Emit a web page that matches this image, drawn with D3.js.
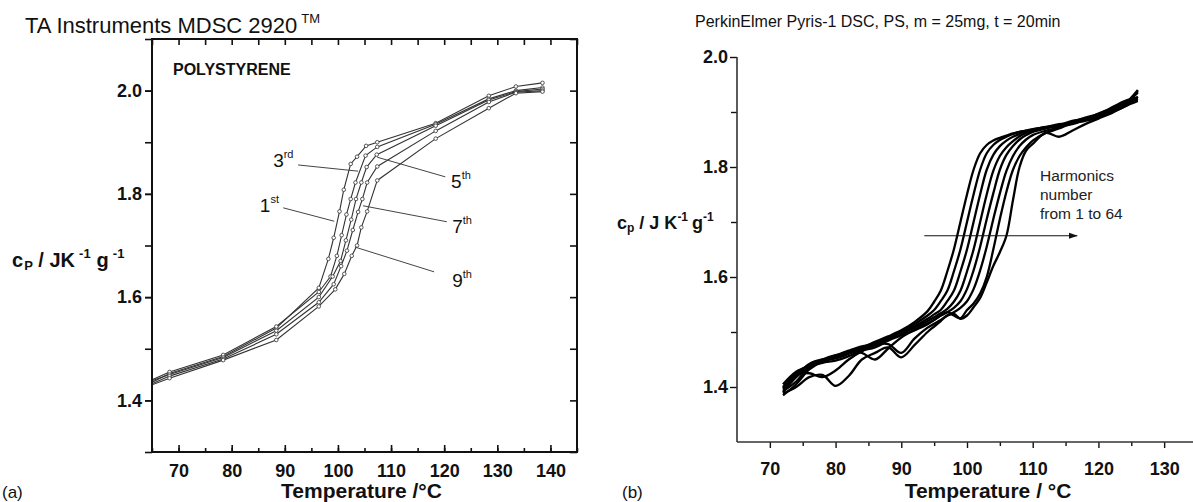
<!DOCTYPE html>
<html>
<head>
<meta charset="utf-8">
<script src="https://cdn.jsdelivr.net/npm/d3@7"></script>
<style>
  body { margin: 0; background: #fff; }
  svg { display: block; font-family: "Liberation Sans", Arial, Helvetica, sans-serif; }
</style>
</head>
<body>
<svg id="chart" width="1193" height="502"></svg>
<script>
// ---- panel (a): TA Instruments MDSC, 5 harmonics with markers ----
const t1st = [65, 68.3, 78.4, 88.4, 96.4, 98.2, 99.2, 100.3, 101.1, 102.4, 103.6, 105.3, 107.4, 118.4, 128.4, 133.5, 138.5];
const cp1st = [1.435, 1.452, 1.485, 1.54, 1.618, 1.674, 1.715, 1.766, 1.808, 1.858, 1.872, 1.893, 1.90, 1.937, 1.99, 2.008, 2.015];
const t3rd = [65, 68.3, 78.4, 88.4, 96.4, 98.6, 99.8, 100.7, 101.6, 102.4, 103.3, 105.2, 107.4, 118.4, 128.4, 133.5, 138.5];
const cp3rd = [1.44, 1.455, 1.488, 1.543, 1.61, 1.64, 1.68, 1.72, 1.76, 1.79, 1.822, 1.874, 1.891, 1.935, 1.984, 2.0, 2.006];
const t5th = [65, 68.3, 78.4, 88.4, 96.4, 99, 100.5, 101.5, 102.5, 103.4, 104.4, 105.4, 107.3, 118.4, 128.4, 133.5, 138.5];
const cp5th = [1.438, 1.45, 1.483, 1.535, 1.6, 1.64, 1.67, 1.71, 1.75, 1.79, 1.822, 1.852, 1.876, 1.932, 1.982, 1.998, 2.003];
const t7th = [65, 68.3, 78.4, 88.4, 96.4, 99.2, 100.6, 101.7, 102.8, 103.8, 104.6, 105.5, 107.4, 118.4, 128.4, 133.5, 138.5];
const cp7th = [1.432, 1.447, 1.48, 1.528, 1.59, 1.625, 1.66, 1.69, 1.73, 1.765, 1.79, 1.822, 1.853, 1.922, 1.978, 1.997, 2.0];
const t9th = [65, 68.3, 78.4, 88.4, 96.4, 99.5, 101.2, 102.6, 103.6, 104.4, 105.5, 107.4, 118.4, 128.4, 133.5, 138.5];
const cp9th = [1.43, 1.443, 1.478, 1.517, 1.582, 1.615, 1.645, 1.68, 1.70, 1.735, 1.766, 1.826, 1.907, 1.966, 1.995, 1.998];

const xTicksA = [70, 80, 90, 100, 110, 120, 130, 140];
const yTicksA = [1.4, 1.6, 1.8, 2.0];

// ---- panel (b): PerkinElmer Pyris-1, harmonics 1..64 ----
const tGrid = [72, 74, 76, 78, 80, 82, 84, 86, 88, 90, 92, 94, 95, 96, 97, 98, 99, 100, 101, 102, 103, 104, 105, 106, 107, 108, 109, 110, 112, 114, 116, 118, 120, 122, 124, 126];
const h1 = [1.400, 1.425, 1.440, 1.448, 1.455, 1.463, 1.472, 1.482, 1.492, 1.503, 1.518, 1.538, 1.555, 1.575, 1.610, 1.650, 1.700, 1.750, 1.795, 1.825, 1.840, 1.848, 1.853, 1.857, 1.861, 1.864, 1.866, 1.868, 1.871, 1.874, 1.878, 1.885, 1.893, 1.900, 1.910, 1.928];
const h2 = [1.395, 1.420, 1.442, 1.450, 1.452, 1.460, 1.470, 1.480, 1.490, 1.500, 1.514, 1.530, 1.540, 1.556, 1.575, 1.610, 1.650, 1.700, 1.750, 1.795, 1.825, 1.840, 1.849, 1.855, 1.860, 1.864, 1.866, 1.869, 1.872, 1.876, 1.880, 1.886, 1.895, 1.903, 1.915, 1.935];
const h3 = [1.405, 1.428, 1.438, 1.445, 1.457, 1.466, 1.474, 1.478, 1.488, 1.500, 1.510, 1.524, 1.532, 1.540, 1.556, 1.575, 1.610, 1.650, 1.700, 1.750, 1.795, 1.822, 1.838, 1.848, 1.855, 1.860, 1.865, 1.868, 1.873, 1.875, 1.882, 1.888, 1.893, 1.905, 1.918, 1.922];
const h4 = [1.390, 1.418, 1.436, 1.450, 1.458, 1.462, 1.468, 1.476, 1.486, 1.496, 1.508, 1.520, 1.527, 1.534, 1.542, 1.555, 1.575, 1.610, 1.650, 1.700, 1.750, 1.793, 1.820, 1.836, 1.847, 1.856, 1.862, 1.866, 1.872, 1.878, 1.880, 1.886, 1.897, 1.906, 1.912, 1.938];
const h5 = [1.385, 1.405, 1.432, 1.446, 1.453, 1.464, 1.462, 1.450, 1.470, 1.490, 1.504, 1.516, 1.522, 1.530, 1.536, 1.544, 1.556, 1.578, 1.612, 1.655, 1.705, 1.752, 1.795, 1.822, 1.838, 1.850, 1.858, 1.864, 1.870, 1.876, 1.884, 1.887, 1.895, 1.908, 1.920, 1.926];
const h6 = [1.398, 1.422, 1.425, 1.418, 1.430, 1.450, 1.465, 1.476, 1.478, 1.462, 1.488, 1.508, 1.515, 1.522, 1.530, 1.536, 1.544, 1.556, 1.578, 1.612, 1.655, 1.705, 1.752, 1.793, 1.820, 1.838, 1.850, 1.858, 1.866, 1.872, 1.882, 1.890, 1.896, 1.904, 1.915, 1.940];
const h7 = [1.392, 1.410, 1.436, 1.444, 1.448, 1.456, 1.466, 1.472, 1.484, 1.494, 1.503, 1.514, 1.522, 1.530, 1.536, 1.530, 1.525, 1.540, 1.552, 1.570, 1.600, 1.650, 1.705, 1.755, 1.795, 1.820, 1.836, 1.848, 1.862, 1.870, 1.880, 1.884, 1.890, 1.902, 1.912, 1.925];
const h8 = [1.388, 1.400, 1.418, 1.422, 1.402, 1.420, 1.450, 1.462, 1.472, 1.454, 1.476, 1.500, 1.510, 1.520, 1.530, 1.533, 1.524, 1.530, 1.545, 1.562, 1.590, 1.620, 1.645, 1.675, 1.740, 1.800, 1.830, 1.842, 1.862, 1.855, 1.866, 1.878, 1.888, 1.898, 1.910, 1.920];

const xTicksB = [70, 80, 90, 100, 110, 120, 130];
const yTicksB = [1.4, 1.6, 1.8, 2.0];

const svg = d3.select("#chart");
const ink = "#111";

// ================= panel (a) =================
const xA = d3.scaleLinear().domain([65, 145]).range([152, 577]);
const yA = d3.scaleLinear().domain([1.3, 2.1]).range([452, 39]);

const gA = svg.append("g");

// ticks: left outward, others inward
const minorX = d3.range(65, 146, 5);
const minorY = d3.range(1.3, 2.11, 0.1).map(v => +v.toFixed(1));

gA.append("g").attr("transform", "translate(0,452)")
    .call(d3.axisBottom(xA).tickValues(minorX).tickSize(-4).tickFormat(""))
    .call(g => g.select(".domain").remove());
gA.append("g").attr("transform", "translate(0,452)")
    .call(d3.axisBottom(xA).tickValues(xTicksA).tickSize(-7).tickPadding(12).tickFormat(d3.format("d")))
    .call(g => g.select(".domain").remove());
gA.append("g").attr("transform", "translate(0,39)")
    .call(d3.axisTop(xA).tickValues(minorX).tickSize(-6).tickFormat(""))
    .call(g => g.select(".domain").remove());
gA.append("g").attr("transform", "translate(152,0)")
    .call(d3.axisLeft(yA).tickValues(minorY).tickSize(7).tickFormat(""))
    .call(g => g.select(".domain").remove());
gA.append("g").attr("transform", "translate(152,0)")
    .call(d3.axisLeft(yA).tickValues(yTicksA).tickSize(7).tickPadding(3).tickFormat(d3.format(".1f")))
    .call(g => g.select(".domain").remove());
gA.append("g").attr("transform", "translate(577,0)")
    .call(d3.axisRight(yA).tickValues(minorY).tickSize(-7).tickFormat(""))
    .call(g => g.select(".domain").remove());

gA.selectAll(".tick line").attr("stroke", ink).attr("stroke-width", 1.6);
gA.selectAll(".tick text")
    .attr("fill", ink).style("font-size", "18px").style("font-weight", "bold")
    .style("font-family", "'Liberation Sans', Arial, sans-serif");

gA.append("rect")
    .attr("x", xA(65)).attr("y", yA(2.1))
    .attr("width", xA(145) - xA(65)).attr("height", yA(1.3) - yA(2.1))
    .attr("fill", "none").attr("stroke", ink).attr("stroke-width", 2);

const seriesA = [
    { name: "1st", t: t1st, cp: cp1st },
    { name: "3rd", t: t3rd, cp: cp3rd },
    { name: "5th", t: t5th, cp: cp5th },
    { name: "7th", t: t7th, cp: cp7th },
    { name: "9th", t: t9th, cp: cp9th }
];

const lineA = d3.line().x(d => xA(d[0])).y(d => yA(d[1]));
svg.append("clipPath").attr("id", "clipA").append("rect")
    .attr("x", 153).attr("y", 40).attr("width", 423).attr("height", 411);

seriesA.forEach(s => {
    const pts = s.t.map((t, i) => [t, s.cp[i]]);
    const g = gA.append("g").attr("clip-path", "url(#clipA)");
    g.append("path").datum(pts)
        .attr("d", lineA).attr("fill", "none")
        .attr("stroke", "#333").attr("stroke-width", 1.1);
    g.selectAll("circle").data(pts.slice(1)).join("circle")
        .attr("cx", d => xA(d[0])).attr("cy", d => yA(d[1]))
        .attr("r", 1.8).attr("fill", "#fff").attr("stroke", "#444").attr("stroke-width", 0.9);
});

// harmonic labels with leader lines (data coordinates)
const leadersA = [
    { main: "3", sup: "rd", at: [87.8, 1.852], from: [92.5, 1.856], to: [103.8, 1.844] },
    { main: "1", sup: "st", at: [85.3, 1.765], from: [89.7, 1.773], to: [99.3, 1.747] },
    { main: "5", sup: "th", at: [121.3, 1.811], from: [120.2, 1.833], to: [107.4, 1.871] },
    { main: "7", sup: "th", at: [121.5, 1.724], from: [120.5, 1.746], to: [104.7, 1.777] },
    { main: "9", sup: "th", at: [121.5, 1.620], from: [118.1, 1.649], to: [103.2, 1.697] }
];
leadersA.forEach(l => {
    gA.append("line")
        .attr("x1", xA(l.from[0])).attr("y1", yA(l.from[1]))
        .attr("x2", xA(l.to[0])).attr("y2", yA(l.to[1]))
        .attr("stroke", "#444").attr("stroke-width", 1);
    const tx = gA.append("text").attr("x", xA(l.at[0])).attr("y", yA(l.at[1]))
        .attr("fill", ink).style("font-size", "19px");
    tx.append("tspan").text(l.main);
    tx.append("tspan").attr("dy", -9).style("font-size", "11px").text(l.sup);
});

gA.append("text").attr("x", 173).attr("y", 75)
    .attr("fill", ink).style("font-size", "16px").style("font-weight", "bold")
    .text("POLYSTYRENE");

const titleA = svg.append("text").attr("x", 25).attr("y", 33)
    .attr("fill", ink).style("font-size", "22px");
titleA.append("tspan").text("TA Instruments MDSC 2920");
titleA.append("tspan").attr("dx", 4).attr("dy", -10).style("font-size", "13px").text("TM");

const ylabA = svg.append("text").attr("x", 12).attr("y", 267)
    .attr("fill", ink).style("font-size", "20px").style("font-weight", "bold");
ylabA.append("tspan").text("c");
ylabA.append("tspan").attr("dx", 1).attr("dy", 3).style("font-size", "13px").text("P");
ylabA.append("tspan").attr("dy", -3).text(" / JK");
ylabA.append("tspan").attr("dx", 4).attr("dy", -9).style("font-size", "13px").text("-1");
ylabA.append("tspan").attr("dx", 6).attr("dy", 9).text("g");
ylabA.append("tspan").attr("dx", 4).attr("dy", -9).style("font-size", "13px").text("-1");

svg.append("text").attr("x", (xA(65) + xA(145)) / 2 - 3).attr("y", 498)
    .attr("text-anchor", "middle").attr("fill", ink)
    .style("font-size", "21px").style("font-weight", "bold")
    .text("Temperature /°C");

svg.append("text").attr("x", 2).attr("y", 498).attr("fill", ink)
    .style("font-size", "17px").text("(a)");

// ================= panel (b) =================
const xB = d3.scaleLinear().domain([65, 135]).range([737, 1197]);
const yB = d3.scaleLinear().domain([1.3, 2.0]).range([442, 57]);

const gB = svg.append("g");

gB.append("g").attr("transform", "translate(0,442)")
    .call(d3.axisBottom(xB).tickValues(d3.range(75, 130, 10)).tickSize(4).tickFormat(""))
    .call(g => g.select(".domain").remove());
gB.append("g").attr("transform", "translate(0,442)")
    .call(d3.axisBottom(xB).tickValues(xTicksB).tickSize(6).tickPadding(14).tickFormat(d3.format("d")))
    .call(g => g.select(".domain").remove());
gB.append("g").attr("transform", "translate(737,0)")
    .call(d3.axisLeft(yB).tickValues([1.5, 1.7, 1.9]).tickSize(6).tickFormat(""))
    .call(g => g.select(".domain").remove());
gB.append("g").attr("transform", "translate(737,0)")
    .call(d3.axisLeft(yB).tickValues(yTicksB).tickSize(7).tickPadding(2).tickFormat(d3.format(".1f")))
    .call(g => g.select(".domain").remove());

gB.selectAll(".tick line").attr("stroke", ink).attr("stroke-width", 1.4);
gB.selectAll(".tick text")
    .attr("fill", ink).style("font-size", "18px").style("font-weight", "bold")
    .style("font-family", "'Liberation Sans', Arial, sans-serif");

gB.append("line").attr("x1", 737).attr("x2", 737).attr("y1", yB(2.0)).attr("y2", 442)
    .attr("stroke", "#333").attr("stroke-width", 1.6);
gB.append("line").attr("x1", 737).attr("x2", 1193).attr("y1", 442).attr("y2", 442)
    .attr("stroke", "#333").attr("stroke-width", 1.6);

const lineB = d3.line().curve(d3.curveCatmullRom.alpha(0.5))
    .x(d => xB(d[0])).y(d => yB(d[1]));
[h1, h2, h3, h4, h5, h6, h7, h8].forEach(h => {
    gB.append("path").datum(tGrid.map((t, i) => [t, h[i]]))
        .attr("d", lineB).attr("fill", "none")
        .attr("stroke", "#000").attr("stroke-width", 2.3)
        .attr("stroke-linejoin", "round");
});

// arrow: harmonics number
svg.append("defs").append("marker")
    .attr("id", "arr").attr("viewBox", "0 0 10 10").attr("refX", 10).attr("refY", 5)
    .attr("markerWidth", 7).attr("markerHeight", 7).attr("orient", "auto")
    .append("path").attr("d", "M0,1.5 L10,5 L0,8.5 Z").attr("fill", ink);
gB.append("line")
    .attr("x1", xB(93.5)).attr("x2", xB(116.8)).attr("y1", yB(1.675)).attr("y2", yB(1.675))
    .attr("stroke", ink).attr("stroke-width", 1.2).attr("marker-end", "url(#arr)");

const noteB = ["Harmonics", "number", "from 1 to 64"];
gB.selectAll("text.note").data(noteB).join("text").attr("class", "note")
    .attr("x", xB(111.1)).attr("y", (d, i) => 181 + i * 19)
    .attr("fill", "#222").style("font-size", "15.5px").text(d => d);

svg.append("text").attr("x", 695).attr("y", 27).attr("fill", ink)
    .style("font-size", "16px")
    .text("PerkinElmer Pyris-1 DSC, PS, m = 25mg, t = 20min");

const ylabB = svg.append("text").attr("x", 617).attr("y", 229)
    .attr("fill", ink).style("font-size", "18px").style("font-weight", "bold");
ylabB.append("tspan").text("c");
ylabB.append("tspan").attr("dy", 3).style("font-size", "12px").text("p");
ylabB.append("tspan").attr("dy", -3).text(" / J K");
ylabB.append("tspan").attr("dy", -8).style("font-size", "12px").text("-1");
ylabB.append("tspan").attr("dx", 4).attr("dy", 8).text("g");
ylabB.append("tspan").attr("dy", -8).style("font-size", "12px").text("-1");

svg.append("text").attr("x", 988).attr("y", 498)
    .attr("text-anchor", "middle").attr("fill", ink)
    .style("font-size", "21px").style("font-weight", "bold")
    .text("Temperature / °C");

svg.append("text").attr("x", 622).attr("y", 498).attr("fill", ink)
    .style("font-size", "17px").text("(b)");
</script>
</body>
</html>
